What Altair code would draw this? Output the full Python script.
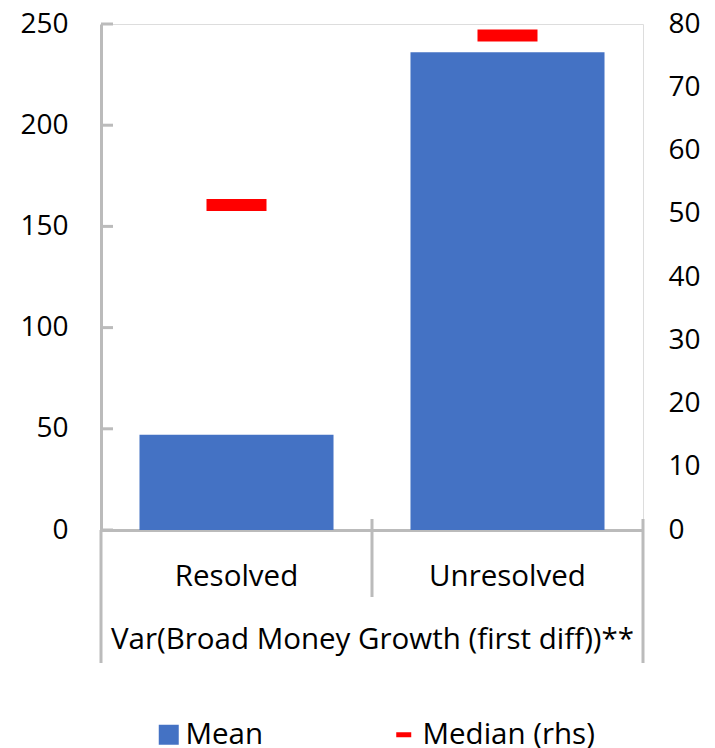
import altair as alt
import pandas as pd

categories = ["Resolved", "Unresolved"]
mean_values = [47.0, 236.0]
median_values = [51.4, 78.2]
left_ticks = [0, 50, 100, 150, 200, 250]
right_ticks = [0, 10, 20, 30, 40, 50, 60, 70, 80]
group_label = "Var(Broad Money Growth (first diff))**"
series_mean = "Mean"
series_median = "Median (rhs)"

BLUE = "#4472C4"
RED = "#FF0000"
GRAY = "#BBBBBB"
FONT = "Open Sans"
FS = 28
FT = 29.5

W, H = 542, 506

df = pd.DataFrame({
    "cat": categories,
    "mean": mean_values,
    "median": median_values,
    "s1": [series_mean] * len(categories),
    "s2": [series_median] * len(categories),
})
ticks_df = pd.DataFrame({"v": left_ticks})

xscale = alt.Scale(domain=categories, paddingInner=0.284, paddingOuter=0.142)

bars = alt.Chart(df).mark_bar(opacity=1).encode(
    x=alt.X("cat:N", scale=xscale, sort=categories,
            axis=alt.Axis(title=group_label, domainColor=GRAY, domainWidth=3,
                          ticks=False, labelAngle=0, labelFontSize=FT, labelFont=FONT,
                          labelColor="#000000", labelBaseline="middle", labelPadding=46,
                          titleFontSize=FT, titleFont=FONT, titleFontWeight="normal",
                          titleColor="#000000", titleY=109, titleBaseline="middle")),
    y=alt.Y("mean:Q", scale=alt.Scale(domain=[0, 250], nice=False),
            axis=alt.Axis(orient="left", values=left_ticks, ticks=False, grid=False,
                          domainColor=GRAY, domainWidth=3, labelFontSize=FS,
                          labelFont=FONT, labelColor="#000000", labelPadding=33,
                          title=None)),
    color=alt.Color("s1:N", scale=alt.Scale(domain=[series_mean], range=[BLUE]),
                    legend=alt.Legend(title=None, orient="none", legendX=53, legendY=696,
                                      padding=0, symbolType="square", symbolSize=400,
                                      symbolStrokeWidth=0, symbolOpacity=1,
                                      labelFontSize=FT, labelFont=FONT,
                                      labelColor="#000000", labelOffset=2,
                                      labelLimit=400)),
)

inner_ticks = alt.Chart(ticks_df).mark_rule(color=GRAY, strokeWidth=3).encode(
    y=alt.Y("v:Q", scale=alt.Scale(domain=[0, 250], nice=False), axis=None),
    x=alt.value(0),
    x2=alt.value(12),
)

medians = alt.Chart(df).mark_tick(thickness=12, size=60, opacity=1).encode(
    x=alt.X("cat:N", scale=xscale, sort=categories),
    y=alt.Y("median:Q", scale=alt.Scale(domain=[0, 80], nice=False),
            axis=alt.Axis(orient="right", values=right_ticks, ticks=False, domain=False,
                          grid=False, labelFontSize=FS, labelFont=FONT,
                          labelColor="#000000", labelPadding=25, labelAlign="left",
                          title=None)),
    color=alt.Color("s2:N", scale=alt.Scale(domain=[series_median], range=[RED]),
                    legend=alt.Legend(title=None, orient="none", legendX=288, legendY=696,
                                      padding=0, symbolType="stroke", symbolSize=225,
                                      symbolStrokeWidth=5, symbolStrokeColor=RED,
                                      symbolOpacity=1, labelFontSize=FT,
                                      labelFont=FONT, labelColor="#000000",
                                      labelOffset=4, labelLimit=400)),
)

def vline(x, y1, y2):
    return alt.Chart(df.head(1)).mark_rule(color=GRAY, strokeWidth=3).encode(
        x=alt.value(x), y=alt.value(y1), y2=alt.value(y2))

frame = vline(0, H, 639) + vline(W / 2, 495, 573) + vline(W, 495, 639)

chart = alt.layer(bars, inner_ticks, frame, medians).resolve_scale(
    y="independent", color="independent"
).properties(
    width=W, height=H, autosize="none",
    padding={"left": 93, "top": 16, "right": 64, "bottom": 226},
).configure_view(stroke=None).configure(font=FONT)

chart.save("out.html", embed_options={"renderer": "svg", "actions": False})
